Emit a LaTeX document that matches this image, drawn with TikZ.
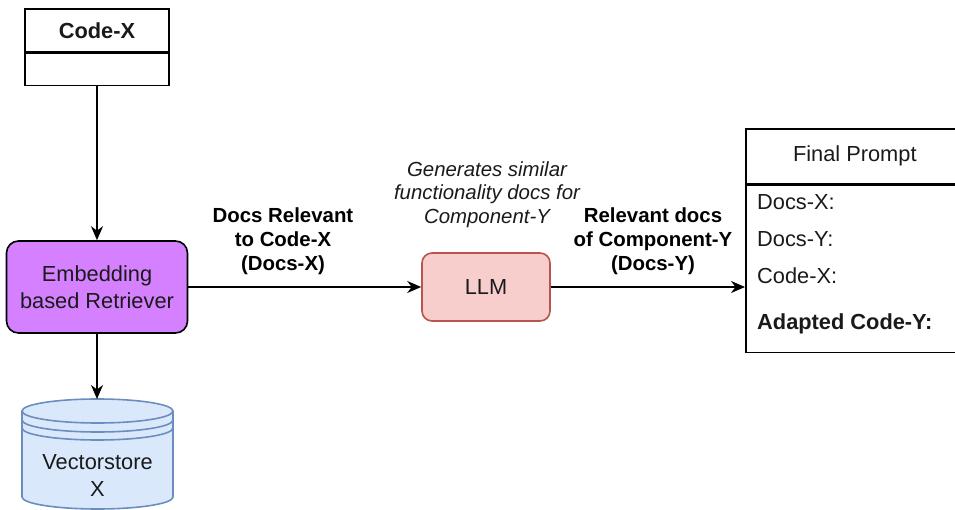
\documentclass[tikz,border=0pt]{standalone}
\usepackage{fontspec}
\setmainfont{Liberation Sans}
\usetikzlibrary{arrows.meta}
\definecolor{purplefill}{HTML}{D580FF}
\definecolor{llmfill}{HTML}{F8CECC}
\definecolor{llmdraw}{HTML}{B85450}
\definecolor{dbfill}{HTML}{DAE8FC}
\definecolor{dbdraw}{HTML}{6C8EBF}
\definecolor{txt}{HTML}{1A1A1A}
\begin{document}
\begin{tikzpicture}[x=1pt,y=-1pt,
  box/.style={draw=black, line width=1.6pt, rectangle, inner sep=0pt, text=txt},
  vfont/.style={font=\fontsize{21.8}{27}\selectfont},
  lfont/.style={font=\fontsize{20.4}{24}\selectfont\bfseries},
  ifont/.style={font=\fontsize{20.4}{23.5}\selectfont\itshape},
  conn/.style={line width=1.8pt, -{Stealth[length=14pt,width=12pt,inset=4.5pt]}},
  dbline/.style={draw=dbdraw, line width=1.6pt},
]
\useasboundingbox (0,0) rectangle (955,510);

% Code-X
\node[box, vfont, minimum width=144pt, minimum height=43pt] (codexh) at (97,30.5) {\bfseries Code-X};
\node[box, minimum width=144pt, minimum height=32pt, anchor=north] (codexb) at (codexh.south) {};

% Retriever
\node[box, vfont, rounded corners=12pt, fill=purplefill, minimum width=181pt, minimum height=92pt, align=center] (ret) at (97,287) {Embedding\\based Retriever};

% LLM
\node[box, vfont, draw=llmdraw, fill=llmfill, rounded corners=10pt, minimum width=128pt, minimum height=68pt] (llm) at (486,287) {LLM};

% Vectorstore cylinder
\fill[dbfill] (22,411) -- (22,497) arc[start angle=180, end angle=0, x radius=75.5, y radius=12] -- (173,411) arc[start angle=0, end angle=-180, x radius=75.5, y radius=12] -- cycle;
\draw[dbline] (22,411) -- (22,497) arc[start angle=180, end angle=0, x radius=75.5, y radius=12] -- (173,411) arc[start angle=0, end angle=-180, x radius=75.5, y radius=12] -- cycle;
\draw[dbline] (22,411) arc[start angle=180, end angle=0, x radius=75.5, y radius=12];
\draw[dbline] (22,420) arc[start angle=180, end angle=0, x radius=75.5, y radius=12];
\draw[dbline] (22,428) arc[start angle=180, end angle=0, x radius=75.5, y radius=12];
\coordinate (vstop) at (97,399);
\node[vfont, text=txt, align=center] (vs) at (97.5,475) {Vectorstore\\X};

% Final Prompt
\node[box, vfont, minimum width=218pt, minimum height=55pt, anchor=north west] (fph) at (745,128) {Final Prompt};
\node[box, minimum width=218pt, minimum height=167pt, anchor=north west] (fpb) at (fph.south west) {};
\node[vfont, text=txt, anchor=west, inner sep=0pt] (i1) at (757,202) {Docs-X:};
\node[vfont, text=txt, anchor=west, inner sep=0pt] (i2) at (757,239) {Docs-Y:};
\node[vfont, text=txt, anchor=west, inner sep=0pt] (i3) at (757,276) {Code-X:};
\node[vfont, text=txt, anchor=west, inner sep=0pt] (i4) at (757,324) {\bfseries Adapted Code-Y:};

% Connectors
\draw[conn] (codexb.south) -- (ret.north);
\draw[conn] (ret.south) -- (vstop);
\draw[conn] (ret.east) -- (llm.west);
\draw[conn] (llm.east) -- (llm.east -| fpb.west);

% Labels
\node[lfont, align=center] (l1) at (283,241) {Docs Relevant\\to Code-X\\(Docs-X)};
\node[lfont, align=center] (l2) at (653,241.5) {Relevant docs\\of Component-Y\\(Docs-Y)};
\node[ifont, align=center, text=txt] (l3) at (487,194.5) {Generates similar\\functionality docs for\\Component-Y};
\end{tikzpicture}
\end{document}
